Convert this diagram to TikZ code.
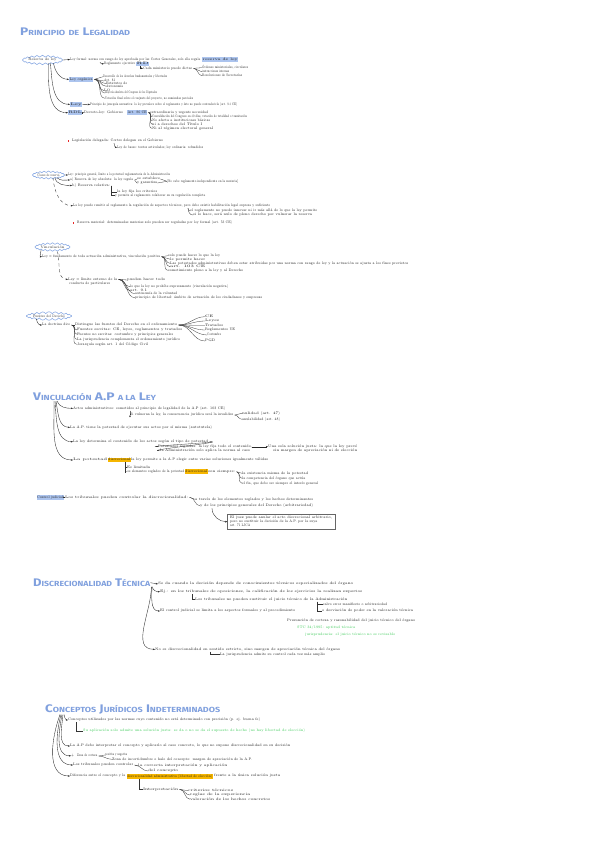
\documentclass[tikz,border=0pt]{standalone}
\usepackage{graphicx}
\usepackage{fontspec}
\newfontfamily\ttlfont{Fira Sans}
\usetikzlibrary{shapes.symbols,arrows.meta,fit}
\definecolor{ttlblue}{RGB}{128,160,222}
\definecolor{hlblue}{RGB}{172,196,238}
\definecolor{cloudc}{RGB}{140,172,228}
\definecolor{hlorange}{RGB}{246,182,0}
\definecolor{grn}{RGB}{50,200,80}
\definecolor{redb}{RGB}{232,40,40}
\newcommand\rsz[2]{\resizebox{#1pt}{\height}{#2}}
\newcommand\smc[1]{{\fontsize{7.4}{8}\selectfont\MakeUppercase{#1}}}
\newcommand\fsc[2]{#1\smc{#2}}
\newcommand\myfan[2]{\foreach \n in {#2} {\draw[br] ([xshift=1.2pt]#1.east) to[out=0,in=180] (\n.west);}}
\tikzset{
 txt/.style={anchor=west, inner sep=0pt, font=\fontsize{3.6}{4}\selectfont, text=black!90, text height=2.6pt, text depth=0.7pt},
 gtxt/.style={txt, text=grn},
 hb/.style={txt, fill=hlblue, inner xsep=0.5pt, inner ysep=0.6pt},
 ho/.style={txt, fill=hlorange, inner xsep=0.5pt, inner ysep=0.6pt},
 ttl/.style={anchor=west, inner sep=0pt, font=\ttlfont\bfseries\fontsize{11}{12}\selectfont, text=ttlblue},
 cloudn/.style={cloud, cloud puffs=22, cloud puff arc=130, cloud ignores aspect, draw=cloudc, line width=0.6pt, inner sep=0pt, font=\fontsize{3.6}{4}\selectfont, text=black!85},
 con/.style={draw=black!85, line width=0.35pt, -{Stealth[length=2.2pt,width=1.7pt]}},
 br/.style={draw=black!80, line width=0.3pt},
 rbul/.style={rectangle, fill=redb, inner sep=0pt, minimum size=1.8pt}
}
\begin{document}
\begin{tikzpicture}[x=1pt,y=-1pt]
\useasboundingbox[fill=white] (0,0) rectangle (600,848);

% ================= Section 1 =================
\node[ttl] (T1) at (20,32) {\rsz{110}{\fsc{P}{rincipio} \smc{de} \fsc{L}{egalidad}}};
\node[cloudn, minimum width=40pt, minimum height=9.5pt] (cl1) at (42.5,60) {\rsz{28}{Reserva de ley}};
\node[txt] (t1) at (70,59.5) {\rsz{130}{Ley formal: norma con rango de ley aprobada por las Cortes Generales, solo ella regula}};
\node[hb] (h1) at (202,59.5) {\rsz{35}{reserva de ley}};
\node[txt] (t2) at (104,63.8) {\rsz{31}{Reglamento ejecutivo}};
\node[hb] (h2) at (136,63.8) {\rsz{12}{RD}};
\node[txt] (t3) at (143,68.3) {\rsz{49}{Cada ministerio puede dictar}};
\node[txt] (L1a) at (202,67.7) {\rsz{46}{Órdenes ministeriales, circulares}};
\node[txt] (L1b) at (202,71.8) {\rsz{27}{instrucciones internas}};
\node[txt] (L1c) at (202,75.7) {\rsz{40}{Resoluciones de Secretarías}};
\node[hb] (h3) at (69,79.3) {\rsz{23}{Ley orgánica}};
\node[txt] (o1) at (103,76.7) {\rsz{64}{Desarrollo de los derechos fundamentales y libertades}};
\node[txt] (o2) at (104,81) {\rsz{11}{Art. 81}};
\node[txt] (o3) at (106,83.5) {\rsz{21}{Estatutos de}};
\node[txt] (o4) at (106,86.2) {\rsz{17}{Autonomía}};
\node[txt] (o5) at (104,90.7) {\rsz{6}{LO}};
\node[txt] (o6) at (105,93) {\rsz{52}{Mayoría absoluta del Congreso de los Diputados}};
\node[txt] (o7) at (105,98.3) {\rsz{88}{Votación final sobre el conjunto del proyecto, no enmiendas parciales}};
\node[hb] (h4) at (70,104.3) {\rsz{11}{Ley}};
\node[txt] (t4) at (90,104.5) {\rsz{147}{Principio de jerarquía normativa: la ley prevalece sobre el reglamento y éste no puede contradecirla (art. 9.3 CE)}};
\node[hb] (h5) at (68,112.7) {\rsz{13}{RDL}};
\node[txt] (t5) at (84,112.7) {\rsz{39}{Decreto-ley: Gobierno}};
\node[hb] (h6) at (127,112.5) {\rsz{19}{Art. 86 CE}};
\node[txt] (d1) at (150,112.3) {\rsz{58}{extraordinaria y urgente necesidad}};
\node[txt] (d2) at (152,116.7) {\rsz{95}{Convalidación del Congreso en 30 días, votación de totalidad o tramitación}};
\node[txt] (d3) at (152,120.7) {\rsz{58}{No afecta a instituciones básicas}};
\node[txt] (d4) at (152,124.2) {\rsz{50}{ni a derechos del Título I}};
\node[txt] (d5) at (152,128.3) {\rsz{61}{Ni al régimen electoral general}};
\node[rbul] (rb1) at (68.5,140.7) {};
\node[txt] (r1) at (72,140.7) {\rsz{91}{Legislación delegada: Cortes delegan en el Gobierno}};
\node[txt] (r2) at (117,147.3) {\rsz{86}{Ley de bases: textos articulados; ley ordinaria: refundidos}};

\draw[con] (cl1.east) -- (t1.west);
\draw[con] ([xshift=30pt,yshift=-1pt]t1.south west) to[out=-90,in=180] (t2.west);
\draw[con] ([xshift=-3pt]h2.south) |- (t3.west);
\myfan{t3}{L1a,L1b,L1c}
\draw[con] ([xshift=-2pt]cl1.south east) to[out=-80,in=180] (h3.west);
\draw[con] ([xshift=-5pt]cl1.south east) to[out=-85,in=180] (h4.west);
\draw[con] ([xshift=-7pt]cl1.south east) to[out=-90,in=180] (h5.west);
\myfan{h3}{o1,o2,o3,o4,o5,o6,o7}
\draw[con] (h4.east) -- (t4.west);
\draw[con] (h5.east) -- (t5.west);
\myfan{h6}{d1,d2,d3,d4,d5}
\draw[con] ([xshift=42pt,yshift=-0.5pt]r1.south west) to[out=-90,in=180] (r2.west);

% ================= Section 2 =================
\node[cloudn, minimum width=32pt, minimum height=8pt] (cl2) at (48.5,175) {\rsz{22}{Clases de reserva}};
\node[txt] (s2a) at (68,175) {\rsz{102}{Ley: principio general, límite a la potestad reglamentaria de la Administración}};
\node[txt] (s2b) at (70,180) {\rsz{63}{a) Reserva de ley absoluta: la ley regula}};
\node[txt] (b1) at (137,179) {\rsz{23}{se establece}};
\node[txt] (b2) at (137,183) {\rsz{20}{y garantiza}};
\node[txt] (b3) at (167,181.3) {\rsz{71}{[No cabe reglamento independiente en la materia]}};
\node[txt] (s2c) at (72,185.5) {\rsz{38}{b) Reserva relativa:}};
\node[txt] (c1) at (117,192) {\rsz{40}{la ley fija los criterios}};
\node[txt] (c2) at (115,195.6) {\rsz{90}{y permite al reglamento colaborar en su regulación completa}};
\node[txt] (s2d) at (73,205.7) {\rsz{197}{La ley puede remitir al reglamento la regulación de aspectos técnicos, pero debe existir habilitación legal expresa y suficiente}};
\node[txt] (e1) at (190,211) {\rsz{127}{el reglamento no puede innovar ni ir más allá de lo que la ley permite}};
\node[txt] (e2) at (193,215) {\rsz{119}{si lo hace, será nulo de pleno derecho por vulnerar la reserva}};
\node[rbul] (rb2) at (73.5,222.7) {};
\node[txt] (r3) at (77,222.7) {\rsz{155}{Reserva material: determinadas materias solo pueden ser reguladas por ley formal (art. 53 CE)}};

\draw[con] (cl2.east) -- (s2a.west);
\draw[con] ([xshift=-2pt]cl2.south east) to[out=-45,in=180] (s2b.west);
\draw[con] ([xshift=-4pt]cl2.south east) to[out=-80,in=180] (s2c.west);
\draw[con, dashed] ([xshift=-6pt]cl2.south east) to[out=-85,in=180] (s2d.west);
\myfan{s2b}{b1,b2}
\draw[br] (b1.east) to[out=0,in=180] (b3.west);
\draw[br] (b2.east) to[out=0,in=180] (b3.west);
\draw[br] ([xshift=1pt]s2c.east) |- (c1.west);
\draw[br] ([xshift=1pt]s2c.east) |- (c2.west);
\draw[br] ([xshift=115pt,yshift=-0.5pt]s2d.south west) to[out=-90,in=180] (e1.west);
\draw[br] ([xshift=115pt,yshift=-0.5pt]s2d.south west) to[out=-90,in=180] (e2.west);

% ================= Section 3 =================
\node[cloudn, minimum width=35pt, minimum height=8.5pt] (cl3) at (52.5,247) {\rsz{24}{Vinculación}};
\node[txt] (s3a) at (42,256.7) {\rsz{118}{Ley = fundamento de toda actuación administrativa, vinculación positiva}};
\node[txt] (v1) at (168,255.7) {\rsz{52}{solo puede hacer lo que la ley}};
\node[txt] (v2) at (170,259.2) {\rsz{35}{le permite hacer}};
\node[txt] (v3) at (170,263.3) {\rsz{238}{Las potestades administrativas deben estar atribuidas por una norma con rango de ley y la actuación se ajusta a los fines previstos}};
\node[txt] (v4) at (170,266.8) {\rsz{35}{art. 103 CE}};
\node[txt] (v5) at (168,270.3) {\rsz{75}{sometimiento pleno a la ley y al Derecho}};
\node[txt] (s3b1) at (68,279.3) {\rsz{49}{Ley = límite externo de la}};
\node[txt] (s3b2) at (69,283.3) {\rsz{41}{conducta de particulares}};
\node[txt] (w1) at (127,280) {\rsz{38}{pueden hacer todo}};
\node[txt] (w2) at (130,286.7) {\rsz{98}{lo que la ley no prohíbe expresamente (vinculación negativa)}};
\node[txt] (w3) at (130,290.8) {\rsz{17}{art. 9.1}};
\node[txt] (w4) at (135,293.6) {\rsz{42}{autonomía de la voluntad}};
\node[txt] (w5) at (135,297.7) {\rsz{127}{principio de libertad: ámbito de actuación de los ciudadanos y empresas}};

\draw[con] (cl3.south west) to[out=-90,in=180] (s3a.west);
\myfan{s3a}{v1,v2,v3,v4,v5}
\draw[con, dashed] ([xshift=5pt]cl3.south) to[out=-75,in=180] (s3b1.west);
\myfan{s3b1}{w1,w2,w3,w4,w5}

% ================= Section 4 =================
\node[cloudn, minimum width=42pt, minimum height=8.5pt] (cl4) at (49,316) {\rsz{32}{Fuentes del Derecho}};
\node[txt] (s4a) at (42,325) {\rsz{28}{La doctrina dice}};
\node[txt] (f1) at (75,325) {\rsz{102}{Distingue las fuentes del Derecho en el ordenamiento}};
\node[txt] (f2) at (77,330) {\rsz{105}{Fuentes escritas: CE, leyes, reglamentos y tratados}};
\node[txt] (f3) at (77,334.3) {\rsz{96}{Fuentes no escritas: costumbre y principios generales}};
\node[txt] (f4) at (77,339.3) {\rsz{103}{La jurisprudencia complementa el ordenamiento jurídico}};
\node[txt] (f5) at (77,344.3) {\rsz{71}{Jerarquía según art. 1 del Código Civil}};
\node[txt] (g1) at (205,316.7) {\rsz{8}{CE}};
\node[txt] (g2) at (205,321) {\rsz{14}{Leyes}};
\node[txt] (g3) at (205,325.3) {\rsz{18}{Tratados}};
\node[txt] (g4) at (205,330) {\rsz{30}{Reglamentos UE}};
\node[txt] (g5) at (207,335) {\rsz{14}{Costumbre}};
\node[txt] (g6) at (205,341) {\rsz{10}{PGD}};

\draw[con] ([xshift=2pt]cl4.south west) to[out=-90,in=180] (s4a.west);
\myfan{s4a}{f1,f2,f3,f4,f5}
\myfan{f1}{g1,g2,g3,g4,g5,g6}

% ================= Section 5 =================
\node[ttl] (T5) at (33,397) {\rsz{123}{\fsc{V}{inculación} A.P \smc{a la} \fsc{L}{ey}}};
\node[txt] (s5a) at (73,408.3) {\rsz{152}{Actos administrativos: sometidos al principio de legalidad de la A.P (art. 103 CE)}};
\node[txt] (s5b) at (130,415) {\rsz{103}{Si vulneran la ley, la consecuencia jurídica será la invalidez}};
\node[txt] (k1) at (242,413.3) {\rsz{38}{nulidad (art. 47)}};
\node[txt] (k2) at (242,419.3) {\rsz{38}{anulabilidad (art. 48)}};
\node[txt] (s5c) at (70,427.3) {\rsz{142}{La A.P. tiene la potestad de ejecutar sus actos por sí misma (autotutela)}};
\node[txt] (s5d) at (73,441.7) {\rsz{135}{La ley determina el contenido de los actos según el tipo de potestad}};
\node[txt] (s5e) at (158,446.7) {\rsz{94}{Potestades regladas: la ley fija todo el contenido,}};
\node[txt] (s5f) at (160,450.7) {\rsz{90}{la Administración solo aplica la norma al caso}};
\node[txt] (m1) at (268,446.7) {\rsz{89}{Una sola solución justa: la que la ley prevé}};
\node[txt] (m2) at (273,450.7) {\rsz{84}{sin margen de apreciación ni de elección}};
\node[txt] (s5g1) at (73,460) {\rsz{34}{La potestad}};
\node[ho] (hl5) at (107.5,460) {\rsz{22}{discrecional}};
\node[txt] (s5g2) at (131,460) {\rsz{137}{la ley permite a la A.P elegir entre varias soluciones igualmente válidas}};
\node[txt] (s5h0) at (127,467.3) {\rsz{23}{Es limitada}};
\node[txt] (s5h1) at (125,471.7) {\rsz{59}{Los elementos reglados de la potestad}};
\node[ho] (hl6) at (184.5,471.7) {\rsz{22}{discrecional}};
\node[txt] (s5h2) at (208,471.7) {\rsz{27}{son siempre:}};
\node[txt] (n1) at (242,473.3) {\rsz{66}{la existencia misma de la potestad}};
\node[txt] (n2) at (242,478.3) {\rsz{63}{la competencia del órgano que actúa}};
\node[txt] (n3) at (242,483.3) {\rsz{76}{el fin, que debe ser siempre el interés general}};
\node[hb] (hb7) at (36.5,497.3) {\rsz{26}{Control judicial}};
\node[txt] (s5i) at (65,497.3) {\rsz{123}{Los tribunales pueden controlar la discrecionalidad:}};
\node[txt] (p1) at (195,499.3) {\rsz{118}{a través de los elementos reglados y los hechos determinantes}};
\node[txt] (p2) at (200,505.8) {\rsz{113}{y de los principios generales del Derecho (arbitrariedad)}};
\node[txt] (q1) at (230,517.6) {\rsz{102}{El juez puede anular el acto discrecional arbitrario,}};
\node[txt] (q2) at (230,521.8) {\rsz{87}{pero no sustituir la decisión de la A.P. por la suya}};
\node[txt] (q3) at (230,525.8) {\rsz{20}{art. 71 LJCA}};
\node[fit=(q1)(q2)(q3), draw=black!60, line width=0.35pt, inner xsep=2.5pt, inner ysep=2pt] (qbox) {};

\draw[con] ([xshift=24pt]T5.south west) to[out=-70,in=180] (s5a.west);
\draw[con] ([xshift=23pt]T5.south west) to[out=-80,in=180] (s5c.west);
\draw[con] ([xshift=22pt]T5.south west) to[out=-85,in=180] (s5d.west);
\draw[con] ([xshift=21pt]T5.south west) to[out=-88,in=180] (s5g1.west);
\draw[con] ([xshift=57pt,yshift=-0.5pt]s5a.south west) |- (s5b.west);
\myfan{s5b}{k1,k2}
\myfan{s5d}{s5e,s5f}
\draw[con] (s5e.east) -- (m1.west);
\draw[br] ([xshift=18pt]hl5.south west) |- (s5h0.west);
\draw[br] ([xshift=18pt]hl5.south west) |- (s5h1.west);
\myfan{s5h2}{n1,n2,n3}
\draw[con] (hb7.east) -- (s5i.west);
\myfan{s5i}{p1,p2}
\draw[con] ([xshift=12pt,yshift=-0.5pt]p2.south west) to[out=-90,in=180] (qbox.west);

% ================= Section 6 =================
\node[ttl] (T6) at (33,582.7) {\rsz{117}{\fsc{D}{iscrecionalidad} \fsc{T}{écnica}}};
\node[txt] (s6a) at (158,584) {\rsz{195}{Se da cuando la decisión depende de conocimientos técnicos especializados del órgano}};
\node[txt] (s6b) at (160,591.7) {\rsz{202}{Ej.: en los tribunales de oposiciones, la calificación de los ejercicios la realizan expertos}};
\node[txt] (s6c) at (195,599.3) {\rsz{152}{Los tribunales no pueden sustituir el juicio técnico de la Administración}};
\node[txt] (u1) at (323,604.3) {\rsz{64}{salvo error manifiesto o arbitrariedad}};
\node[txt] (u2) at (322,611) {\rsz{91}{o desviación de poder en la valoración técnica}};
\node[txt] (s6d) at (160,611) {\rsz{135}{El control judicial se limita a los aspectos formales y al procedimiento}};
\node[txt] (s6e) at (287,621) {\rsz{128}{Presunción de certeza y razonabilidad del juicio técnico del órgano}};
\node[gtxt] (gr1) at (297,627.3) {\rsz{58}{STC 34/1995: aptitud técnica}};
\node[gtxt] (gr2) at (305,634.3) {\rsz{90}{jurisprudencia: el juicio técnico no es revisable}};
\node[txt] (s6f) at (155,649.3) {\rsz{185}{No es discrecionalidad en sentido estricto, sino margen de apreciación técnica del órgano}};
\node[txt] (s6g) at (220,654.3) {\rsz{105}{La jurisprudencia admite su control cada vez más amplio}};

\draw[con] (T6.east) -- (s6a.west);
\draw[con] ([xshift=2pt]T6.south east) to[out=-90,in=180] (s6b.west);
\draw[con] ([xshift=1.5pt]T6.south east) to[out=-90,in=180] (s6d.west);
\draw[con] ([xshift=1pt]T6.south east) to[out=-90,in=180] (s6f.west);
\draw[br] ([xshift=32pt,yshift=-0.5pt]s6b.south west) |- (s6c.west);
\draw[br] ([xshift=122pt,yshift=-0.5pt]s6c.south west) |- (u1.west);
\draw[br] ([xshift=122pt,yshift=-0.5pt]s6c.south west) |- (u2.west);
\draw[br] ([xshift=55pt,yshift=-0.5pt]s6f.south west) |- (s6g.west);

% ================= Section 7 =================
\node[ttl] (T7) at (45,709.5) {\rsz{175}{\fsc{C}{onceptos} \fsc{J}{urídicos} \fsc{I}{ndeterminados}}};
\node[txt] (s7a) at (68,720) {\rsz{192}{Conceptos utilizados por las normas cuyo contenido no está determinado con precisión (p. ej. buena fe)}};
\node[gtxt] (s7b) at (83,730.7) {\rsz{222}{Su aplicación solo admite una solución justa: se da o no se da el supuesto de hecho (no hay libertad de elección)}};
\node[txt] (s7c) at (70,746) {\rsz{220}{La A.P debe interpretar el concepto y aplicarlo al caso concreto, lo que no supone discrecionalidad en su decisión}};
\node[txt] (s7d0) at (71,755.8) {\rsz{3}{+}};
\node[txt] (s7d) at (77,756) {\rsz{20}{Zona de certeza}};
\node[txt] (x1) at (105,755) {\rsz{22}{positiva y negativa}};
\node[txt] (x2) at (112,759.3) {\rsz{140}{Zona de incertidumbre o halo del concepto: margen de apreciación de la A.P.}};
\node[txt] (s7e) at (73,765) {\rsz{60}{Los tribunales pueden controlar}};
\node[txt] (y1) at (138,766) {\rsz{89}{la correcta interpretación y aplicación}};
\node[txt] (y2) at (148,771) {\rsz{30}{del concepto}};
\node[txt] (s7f1) at (70,776) {\rsz{55}{Diferencia entre el concepto y la}};
\node[ho] (hl7) at (126.5,776.5) {\rsz{85}{discrecionalidad administrativa (libertad de elección)}};
\node[txt] (s7f2) at (214,776) {\rsz{66}{frente a la única solución justa}};
\node[txt] (z0) at (143,789.3) {\rsz{35}{Interpretación}};
\node[txt] (z1) at (188,790.7) {\rsz{45}{criterios técnicos}};
\node[txt] (z2) at (190,795) {\rsz{60}{reglas de la experiencia}};
\node[txt] (z3) at (190,799.2) {\rsz{80}{valoración de los hechos concretos}};

\draw[con] ([xshift=19pt]T7.south west) to[out=-80,in=180] (s7a.west);
\draw[br] ([xshift=8pt,yshift=-0.5pt]s7a.south west) |- (s7b.west);
\draw[con] ([xshift=18pt]T7.south west) to[out=-95,in=180] (s7c.west);
\draw[con] ([xshift=17pt]T7.south west) to[out=-100,in=180] (s7d0.west);
\draw[con] ([xshift=16pt]T7.south west) to[out=-105,in=180] (s7e.west);
\draw[con] ([xshift=15pt]T7.south west) to[out=-110,in=180] (s7f1.west);
\myfan{s7d}{x1,x2}
\myfan{s7e}{y1,y2}
\draw[br] ([xshift=13pt]hl7.south west) |- (z0.west);
\myfan{z0}{z1,z2,z3}
\end{tikzpicture}
\end{document}
